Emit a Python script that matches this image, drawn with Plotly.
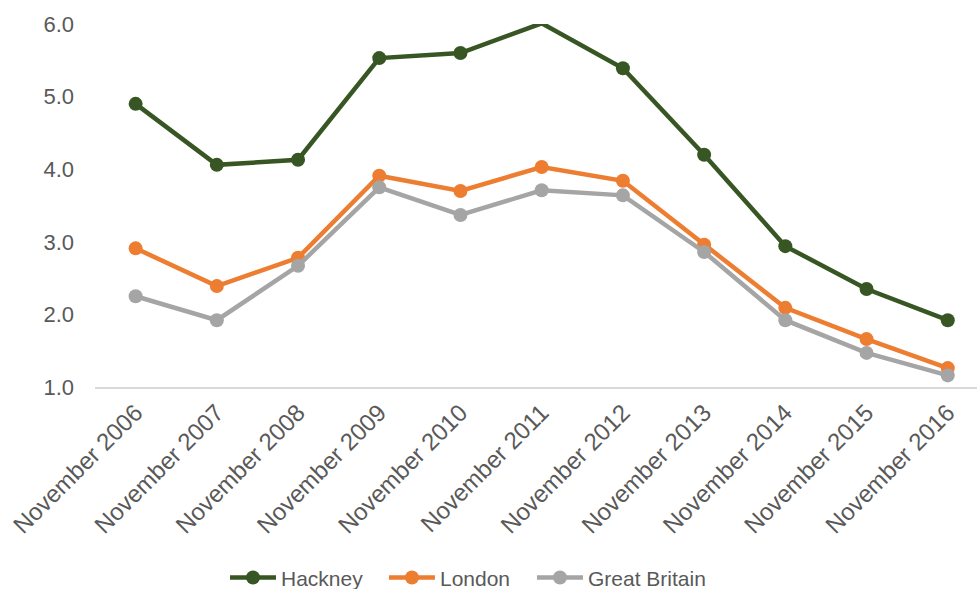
import plotly.graph_objects as go

# Monthly rate (%) for each November, 2006-2016
months = ["November 2006", "November 2007", "November 2008", "November 2009",
          "November 2010", "November 2011", "November 2012", "November 2013",
          "November 2014", "November 2015", "November 2016"]
hackney = [4.90, 4.06, 4.13, 5.53, 5.60, 6.01, 5.39, 4.20, 2.94, 2.35, 1.92]
london = [2.91, 2.39, 2.78, 3.91, 3.70, 4.03, 3.84, 2.96, 2.09, 1.66, 1.26]
great_britain = [2.25, 1.92, 2.67, 3.75, 3.37, 3.71, 3.64, 2.86, 1.92, 1.47, 1.16]

y_ticks = [1.0, 2.0, 3.0, 4.0, 5.0, 6.0]

series = [
    ("Hackney", hackney, "#375623", "legend"),
    ("London", london, "#ED7D31", "legend2"),
    ("Great Britain", great_britain, "#A5A5A5", "legend3"),
]

fig = go.Figure()
for name, vals, color, leg in series:
    fig.add_trace(go.Scatter(
        x=list(range(len(months))), y=vals, name=name,
        mode="lines+markers",
        line=dict(color=color, width=4.5),
        marker=dict(color=color, size=14),
        cliponaxis=False,
        legend=leg,
    ))

font = dict(family="Liberation Sans, Arial, sans-serif", color="#595959", size=22)


def legend_at(x):
    # one legend entry per box, placed along the bottom of the chart
    return dict(orientation="h", xref="container", x=x, xanchor="left",
                yref="container", y=0.019, yanchor="middle",
                font=dict(size=21, color="#595959"), itemwidth=46,
                bgcolor="rgba(0,0,0,0)")


fig.update_layout(
    width=977, height=589,
    margin=dict(l=95, r=0, t=24, b=202, autoexpand=False),
    paper_bgcolor="white", plot_bgcolor="white",
    font=font,
    showlegend=True,
    legend=legend_at(0.2303),
    legend2=legend_at(0.393),
    legend3=legend_at(0.5445),
    xaxis=dict(
        range=[-0.5, 10.36], automargin=False,
        tickmode="array", tickvals=list(range(len(months))), ticktext=months,
        tickangle=-45, showgrid=False, zeroline=False,
        showline=True, linecolor="#D9D9D9", linewidth=2,
        ticks="", tickfont=dict(size=24, color="#595959"),
    ),
    yaxis=dict(
        range=[1.0, 6.0], automargin=False,
        tickmode="array", tickvals=y_ticks, ticktext=[f"{v:.1f}" for v in y_ticks],
        showgrid=False, zeroline=False, showline=False, ticks="",
        tickfont=dict(size=22, color="#595959"), ticklabelstandoff=20,
    ),
)

fig.write_html("out.html")
